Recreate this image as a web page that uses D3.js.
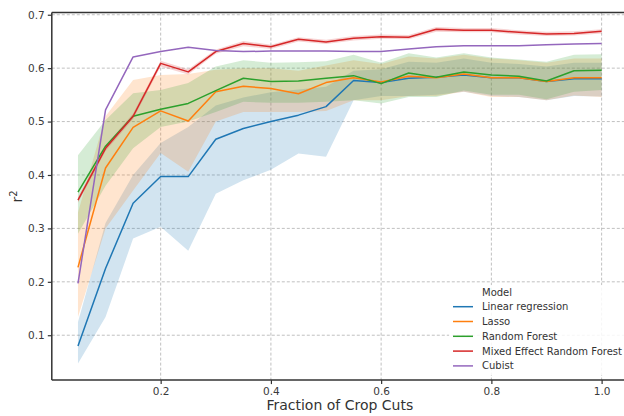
<!DOCTYPE html>
<html>
<head>
<meta charset="utf-8">
<script src="https://cdn.jsdelivr.net/npm/d3@7"></script>
<style>
  html, body { margin: 0; padding: 0; background: #fff; }
  svg { display: block; font-family: "DejaVu Sans", sans-serif; }
</style>
</head>
<body>
<svg id="chart" width="624" height="416"></svg>
<script>
// Fraction of crop cuts used for training
const fractions = [0.05,0.10,0.15,0.20,0.25,0.30,0.35,0.40,0.45,0.50,0.55,0.60,0.65,0.70,0.75,0.80,0.85,0.90,0.95,1.00];

// Mean r^2 per model, with confidence band bounds
const linearMean = [0.080,0.225,0.347,0.397,0.397,0.467,0.487,0.500,0.512,0.528,0.577,0.573,0.581,0.583,0.587,0.582,0.582,0.575,0.580,0.580];
const linearLo   = [0.047,0.134,0.281,0.303,0.258,0.365,0.390,0.410,0.440,0.434,0.540,0.548,0.548,0.550,0.556,0.548,0.546,0.540,0.548,0.547];
const linearHi   = [0.125,0.310,0.400,0.460,0.490,0.530,0.545,0.555,0.560,0.565,0.595,0.598,0.612,0.610,0.618,0.610,0.608,0.603,0.610,0.610];

const lassoMean = [0.227,0.413,0.489,0.520,0.501,0.556,0.566,0.562,0.552,0.573,0.582,0.574,0.585,0.582,0.589,0.582,0.582,0.575,0.582,0.582];
const lassoLo   = [0.134,0.300,0.371,0.441,0.406,0.500,0.518,0.518,0.518,0.520,0.540,0.540,0.548,0.548,0.556,0.546,0.546,0.540,0.549,0.546];
const lassoHi   = [0.330,0.510,0.578,0.587,0.589,0.597,0.600,0.600,0.595,0.605,0.615,0.608,0.622,0.618,0.625,0.618,0.615,0.610,0.618,0.618];

const forestMean = [0.368,0.454,0.510,0.523,0.534,0.558,0.581,0.575,0.576,0.581,0.586,0.571,0.591,0.583,0.593,0.587,0.585,0.576,0.595,0.596];
const forestLo   = [0.290,0.380,0.450,0.490,0.500,0.518,0.537,0.535,0.535,0.537,0.540,0.534,0.546,0.546,0.558,0.550,0.550,0.542,0.556,0.559];
const forestHi   = [0.437,0.503,0.553,0.559,0.572,0.603,0.615,0.610,0.611,0.613,0.625,0.610,0.628,0.620,0.628,0.620,0.616,0.612,0.625,0.626];

const merfMean = [0.353,0.450,0.510,0.609,0.593,0.631,0.646,0.640,0.654,0.649,0.656,0.659,0.658,0.673,0.671,0.671,0.667,0.664,0.665,0.669];
const merfLo   = [0.348,0.445,0.505,0.603,0.588,0.627,0.641,0.636,0.650,0.645,0.652,0.655,0.654,0.668,0.667,0.667,0.663,0.660,0.661,0.665];
const merfHi   = [0.358,0.455,0.515,0.614,0.598,0.635,0.651,0.644,0.658,0.653,0.660,0.663,0.662,0.677,0.675,0.675,0.671,0.668,0.669,0.673];

const cubistMean = [0.197,0.522,0.621,0.631,0.639,0.633,0.631,0.632,0.632,0.632,0.631,0.631,0.636,0.640,0.642,0.642,0.642,0.644,0.645,0.646];

const modelNames  = ["Linear regression","Lasso","Random Forest","Mixed Effect Random Forest","Cubist"];
const modelColors = ["#1f77b4","#ff7f0e","#2ca02c","#d62728","#9467bd"];

const xTicks = [0.2,0.4,0.6,0.8,1.0];
const yTicks = [0.1,0.2,0.3,0.4,0.5,0.6,0.7];

const models = [
  {mean: linearMean, lo: linearLo, hi: linearHi},
  {mean: lassoMean,  lo: lassoLo,  hi: lassoHi},
  {mean: forestMean, lo: forestLo, hi: forestHi},
  {mean: merfMean,   lo: merfLo,   hi: merfHi},
  {mean: cubistMean, lo: null,     hi: null}
].map((m, i) => ({...m, name: modelNames[i], color: modelColors[i]}));

const svg = d3.select("#chart");
const plotL = 51.8, plotR = 627.8, plotT = 12.6, plotB = 380.1;

const x = d3.scaleLinear().domain([0.0025, 1.0475]).range([plotL, plotR]);
const y = d3.scaleLinear().domain([0.016, 0.704]).range([plotB, plotT]);

// Grid
const grid = svg.append("g");
grid.selectAll("line.gx").data(xTicks).join("line")
  .attr("x1", d => x(d)).attr("x2", d => x(d))
  .attr("y1", plotT).attr("y2", plotB)
  .attr("stroke", "#b0b0b0").attr("stroke-width", 0.8).attr("stroke-dasharray", "3,2");
grid.selectAll("line.gy").data(yTicks).join("line")
  .attr("x1", plotL).attr("x2", plotR)
  .attr("y1", d => y(d)).attr("y2", d => y(d))
  .attr("stroke", "#b0b0b0").attr("stroke-width", 0.8).attr("stroke-dasharray", "3,2");

// Confidence bands
const area = d3.area()
  .x((d, i) => x(fractions[i]))
  .y0(d => y(d[0]))
  .y1(d => y(d[1]));
svg.append("g").selectAll("path").data(models.filter(m => m.lo)).join("path")
  .attr("d", m => area(m.lo.map((v, i) => [v, m.hi[i]])))
  .attr("fill", m => m.color).attr("fill-opacity", 0.2).attr("stroke", "none");

// Mean lines
const line = d3.line().x((d, i) => x(fractions[i])).y(d => y(d));
svg.append("g").selectAll("path").data(models).join("path")
  .attr("d", m => line(m.mean))
  .attr("fill", "none").attr("stroke", m => m.color).attr("stroke-width", 1.5)
  .attr("stroke-linejoin", "round");

// Axes (ticks and labels; spines drawn separately)
const axisColor = "#333";
const xAxis = svg.append("g").attr("transform", `translate(0,${plotB})`)
  .call(d3.axisBottom(x).tickValues(xTicks).tickFormat(d3.format(".1f")).tickSizeOuter(0).tickSize(4).tickPadding(3));
const yAxis = svg.append("g").attr("transform", `translate(${plotL},0)`)
  .call(d3.axisLeft(y).tickValues(yTicks).tickFormat(d3.format(".1f")).tickSizeOuter(0).tickSize(4).tickPadding(3));
[xAxis, yAxis].forEach(a => {
  a.select(".domain").remove();
  a.selectAll(".tick line").attr("stroke", axisColor).attr("stroke-width", 1.2);
  a.selectAll(".tick text").attr("fill", "#3a3a3a").attr("font-size", 10.5)
    .attr("font-family", "DejaVu Sans, sans-serif");
});

// Spines
const spines = svg.append("g").attr("stroke", axisColor).attr("stroke-width", 1.5);
spines.append("line").attr("x1", plotL).attr("x2", plotR).attr("y1", plotT).attr("y2", plotT);
spines.append("line").attr("x1", plotL).attr("x2", plotR).attr("y1", plotB).attr("y2", plotB);
spines.append("line").attr("x1", plotL).attr("x2", plotL).attr("y1", plotT).attr("y2", plotB);

// Axis titles
svg.append("text").attr("x", (plotL + plotR) / 2).attr("y", 410)
  .attr("text-anchor", "middle").attr("font-size", 14).attr("fill", "#333")
  .text("Fraction of Crop Cuts");
const yt = svg.append("text")
  .attr("transform", `translate(22,${(plotT + plotB) / 2}) rotate(-90)`)
  .attr("text-anchor", "middle").attr("font-size", 14).attr("fill", "#333");
yt.append("tspan").text("r");
yt.append("tspan").attr("dy", -5).attr("font-size", 10).text("2");

// Legend
const lg = svg.append("g");
lg.append("rect").attr("x", 449).attr("y", 285).attr("width", 175).attr("height", 90)
  .attr("fill", "#fff").attr("fill-opacity", 0.85);
lg.append("text").attr("x", 482).attr("y", 296).attr("font-size", 10).attr("fill", "#333").text("Model");
const rows = lg.selectAll("g.row").data(models).join("g")
  .attr("transform", (d, i) => `translate(0,${306.7 + i * 14.8})`);
rows.append("line").attr("x1", 453).attr("x2", 473).attr("y1", 0).attr("y2", 0)
  .attr("stroke", d => d.color).attr("stroke-width", 1.5);
rows.append("text").attr("x", 482).attr("y", 3.5).attr("font-size", 10).attr("fill", "#333")
  .text(d => d.name);
</script>
</body>
</html>
